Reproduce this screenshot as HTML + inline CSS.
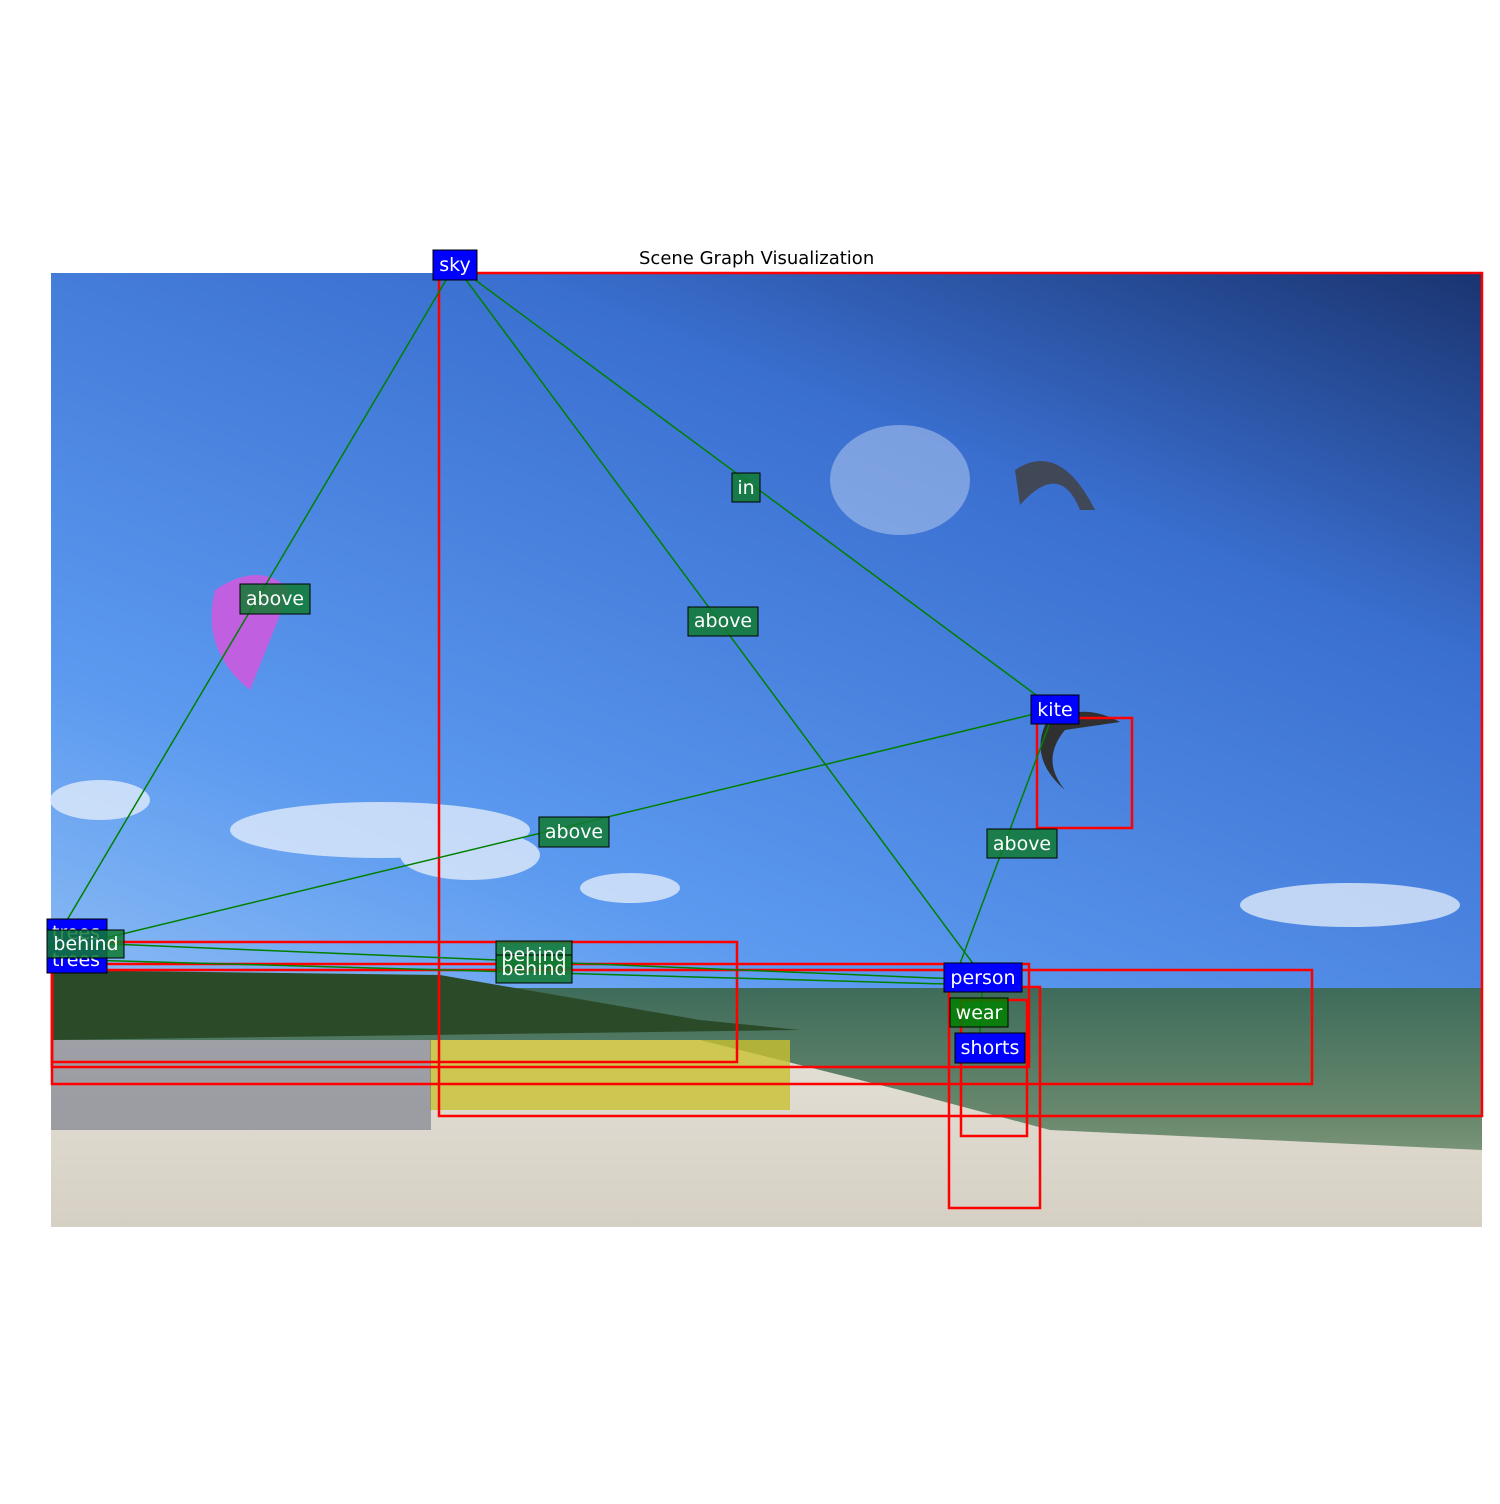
<!DOCTYPE html>
<html><head><style>
body{margin:0;background:#fff;width:1500px;height:1500px;overflow:hidden;font-family:"DejaVu Sans","Liberation Sans",sans-serif}
</style></head><body>
<svg width="1500" height="1500" xmlns="http://www.w3.org/2000/svg" font-family="DejaVu Sans, Liberation Sans, sans-serif">
<defs>
<linearGradient id="sky" x1="1" y1="0" x2="0.4" y2="1">
<stop offset="0" stop-color="#1a3470"/><stop offset="0.3" stop-color="#3a6fd0"/><stop offset="0.75" stop-color="#5c9af0"/><stop offset="1" stop-color="#8cbcf4"/>
</linearGradient>
<linearGradient id="sea" x1="0" y1="0" x2="0" y2="1">
<stop offset="0" stop-color="#3e6c5a"/><stop offset="0.6" stop-color="#6e8c70"/><stop offset="1" stop-color="#a8b49a"/>
</linearGradient>
<linearGradient id="sand" x1="0" y1="0" x2="0" y2="1">
<stop offset="0" stop-color="#e4e0d6"/><stop offset="1" stop-color="#d6d0c4"/>
</linearGradient>
</defs>
<text x="639" y="264" font-size="18">Scene Graph Visualization</text>
<rect x="51" y="273" width="1431" height="954" fill="url(#sky)"/>
<g fill="#e8f0fb" opacity="0.75">
<ellipse cx="380" cy="830" rx="150" ry="28"/><ellipse cx="470" cy="855" rx="70" ry="25"/>
<ellipse cx="100" cy="800" rx="50" ry="20"/><ellipse cx="900" cy="480" rx="70" ry="55" opacity="0.5"/>
<ellipse cx="1350" cy="905" rx="110" ry="22"/><ellipse cx="630" cy="888" rx="50" ry="15"/>
</g>
<rect x="51" y="988" width="1431" height="239" fill="url(#sea)"/>
<polygon points="51,970 440,975 700,1020 800,1030 51,1040" fill="#2b4a28"/>
<polygon points="51,1040 700,1040 900,1090 1050,1130 1482,1150 1482,1227 51,1227" fill="url(#sand)"/>
<rect x="430" y="1040" width="360" height="70" fill="#c8c030" opacity="0.8"/>
<rect x="51" y="1040" width="380" height="90" fill="#5a6078" opacity="0.5"/>
<path d="M215,590 Q260,560 290,590 L250,690 Q200,650 215,590Z" fill="#c060e0"/>
<path d="M1015,470 Q1060,440 1095,510 L1080,510 Q1060,460 1020,505Z" fill="#404858"/>
<path d="M1045,725 Q1080,700 1120,722 L1065,730 Q1040,760 1065,790 Q1030,760 1045,725Z" fill="#303030"/>
<g fill="none" stroke="#f00" stroke-width="2.5">
<rect x="439" y="273" width="1043" height="843"/>
<rect x="1037" y="718" width="95" height="110"/>
<rect x="52" y="942" width="685" height="120"/>
<rect x="52" y="964" width="977" height="103"/>
<rect x="52" y="970" width="1260" height="114"/>
<rect x="949" y="987" width="91" height="221"/>
<rect x="961" y="1000" width="66" height="136"/>
</g>
<g stroke="#008000" stroke-width="1.5" fill="none">
<line x1="455" y1="265" x2="60" y2="932"/>
<line x1="455" y1="265" x2="983" y2="977"/>
<line x1="455" y1="265" x2="1055" y2="709"/>
<line x1="1055" y1="709" x2="85" y2="943"/>
<line x1="1055" y1="709" x2="955" y2="977"/>
<line x1="85" y1="943" x2="983" y2="980"/>
<line x1="85" y1="960" x2="983" y2="985"/>
<line x1="983" y1="977" x2="979" y2="1047"/>
</g>
<g font-size="19" fill="#fff" text-anchor="middle">
<g><rect x="433" y="250" width="44" height="30" fill="#0000ff" stroke="#000" stroke-width="1"/><text x="455" y="271">sky</text></g>
<g><rect x="1031" y="695" width="48" height="29" fill="#0000ff" stroke="#000"/><text x="1055" y="716">kite</text></g>
<g><rect x="47" y="919" width="60" height="27" fill="#0000ff" stroke="#000"/><text x="76" y="939">trees</text></g>
<g><rect x="47" y="946" width="60" height="27" fill="#0000ff" stroke="#000"/><text x="76" y="966">trees</text></g>
<g><rect x="944" y="963" width="78" height="29" fill="#0000ff" stroke="#000"/><text x="983" y="984">person</text></g>
<g><rect x="955" y="1033" width="70" height="30" fill="#0000ff" stroke="#000"/><text x="990" y="1054">shorts</text></g>
<g fill-opacity="0.85">
<rect x="240" y="584" width="70" height="30" fill="#107a30" stroke="#000"/>
<rect x="688" y="607" width="70" height="29" fill="#107a30" stroke="#000"/>
<rect x="732" y="473" width="28" height="29" fill="#107a30" stroke="#000"/>
<rect x="539" y="817" width="70" height="30" fill="#107a30" stroke="#000"/>
<rect x="987" y="829" width="70" height="29" fill="#107a30" stroke="#000"/>
<rect x="47" y="930" width="77" height="28" fill="#107a30" stroke="#000"/>
<rect x="496" y="941" width="76" height="27" fill="#107a30" stroke="#000"/>
<rect x="496" y="955" width="76" height="28" fill="#107a30" stroke="#000"/>
<rect x="950" y="998" width="58" height="29" fill="#008000" stroke="#000"/>
</g>
<text x="275" y="605">above</text>
<text x="723" y="627">above</text>
<text x="746" y="494">in</text>
<text x="574" y="838">above</text>
<text x="1022" y="850">above</text>
<text x="86" y="950">behind</text>
<text x="534" y="961">behind</text>
<text x="534" y="975">behind</text>
<text x="979" y="1019">wear</text>
</g>
</svg>
</body></html>
